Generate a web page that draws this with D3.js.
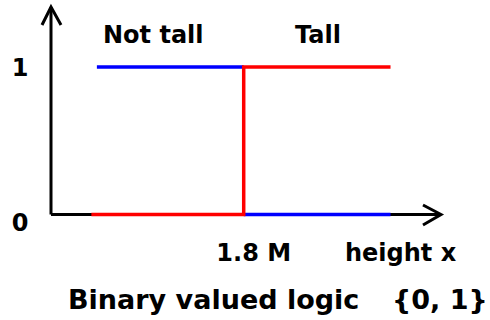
<!DOCTYPE html>
<html>
<head>
<meta charset="utf-8">
<script src="https://cdn.jsdelivr.net/npm/d3@7"></script>
<style>
  body { margin: 0; background: #fff; }
  text { font-family: "DejaVu Sans", Verdana, sans-serif; font-weight: bold; fill: #000; }
</style>
</head>
<body>
<svg id="chart"></svg>
<script>
// membership values (height in metres)
var threshold = 1.8;
var tallX = [0.97, 1.8, 1.8, 2.6];
var tallY = [0, 0, 1, 1];
var notTallX = [1.0, 1.8, 1.8, 1.8, 2.6];
var notTallY = [1, 1, null, 0, 0];
var yTicks = [0, 1];
var categories = ["Not tall", "Tall"];

var width = 490,
    height = 320;

var svg = d3.select("#chart")
    .attr("width", width)
    .attr("height", height);

var x = d3.scaleLinear().domain([0.75, 2.875]).range([51, 441]);
var y = d3.scaleLinear().domain([0, 1]).range([214.5, 67]);

var line = d3.line()
    .defined(function(d) { return d[1] != null; })
    .x(function(d) { return x(d[0]); })
    .y(function(d) { return y(d[1]); });

// axes with arrow heads
var ax = svg.append("g")
    .attr("stroke", "#000")
    .attr("stroke-width", 3)
    .attr("fill", "none");
ax.append("path").attr("d", "M" + x.range()[0] + "," + y(0) + "V7");
ax.append("path").attr("d", "M42,25L" + x.range()[0] + ",7L61,25");
ax.append("path").attr("d", "M" + x.range()[0] + "," + y(0) + "H" + x.range()[1]);
ax.append("path").attr("d", "M423,205L" + x.range()[1] + "," + y(0) + "L423,225");

// Not tall (blue) then Tall (red)
svg.append("path")
    .datum(notTallX.map(function(d, i) { return [d, notTallY[i]]; }))
    .attr("d", line)
    .attr("fill", "none")
    .attr("stroke", "#0000ff")
    .attr("stroke-width", 3.5);

svg.append("path")
    .datum(tallX.map(function(d, i) { return [d, tallY[i]]; }))
    .attr("d", line)
    .attr("fill", "none")
    .attr("stroke", "#ff0000")
    .attr("stroke-width", 3.5);

// y tick labels
svg.selectAll(".ytick")
    .data(yTicks)
    .enter()
    .append("text")
    .attr("x", 20)
    .attr("y", function(d) { return d == 1 ? y(d) + 9 : y(d) + 16; })
    .style("text-anchor", "middle")
    .style("font-size", "24px")
    .text(function(d) { return d; });

// category labels
svg.append("text")
    .attr("x", 103).attr("y", 43)
    .style("font-size", "24px")
    .text(categories[0]);
svg.append("text")
    .attr("x", 295).attr("y", 43)
    .style("font-size", "24px")
    .text(categories[1]);

// x labels
svg.append("text")
    .attr("x", x(threshold) + 10).attr("y", 261)
    .style("text-anchor", "middle")
    .style("font-size", "24px")
    .text(threshold + " M");
svg.append("text")
    .attr("x", 345).attr("y", 261)
    .style("font-size", "24px")
    .text("height x");

// title
svg.append("text")
    .attr("x", 68).attr("y", 309)
    .style("font-size", "27px")
    .text("Binary valued logic");
svg.append("text")
    .attr("x", 392).attr("y", 309)
    .style("font-size", "27px")
    .text("{0, 1}");
</script>
</body>
</html>
